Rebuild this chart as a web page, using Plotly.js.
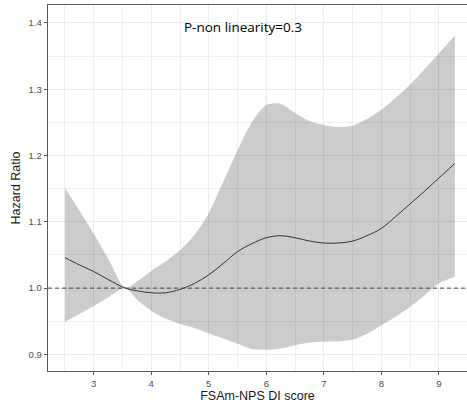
<!DOCTYPE html>
<html>
<head>
<meta charset="utf-8">
<script src="https://cdn.plot.ly/plotly-3.0.1.min.js"></script>
<style>
  html, body { margin: 0; padding: 0; background: #ffffff; }
  #chart { width: 467px; height: 410px; }
</style>
</head>
<body>
<div id="chart"></div>
<script>
// Restricted cubic spline: hazard ratio by FSAm-NPS DI score, with 95% CI
const score = [2.5, 2.75, 3.0, 3.25, 3.55, 3.75, 4.0, 4.25, 4.5, 4.75, 5.0, 5.25, 5.5, 5.75,
               6.0, 6.25, 6.5, 6.75, 7.0, 7.25, 7.5, 7.75, 8.0, 8.25, 8.5, 8.75, 9.0, 9.28];
const hazardRatio = [1.046, 1.035, 1.025, 1.013, 1.000, 0.996, 0.993, 0.993, 0.998, 1.007, 1.020, 1.037, 1.055, 1.067,
                     1.076, 1.079, 1.076, 1.071, 1.068, 1.068, 1.071, 1.079, 1.090, 1.108, 1.127, 1.146, 1.166, 1.188];
const ciUpper = [1.151, 1.117, 1.082, 1.045, 1.000, 1.010, 1.026, 1.040, 1.057, 1.080, 1.113, 1.160, 1.208, 1.250,
                 1.276, 1.278, 1.264, 1.252, 1.246, 1.243, 1.245, 1.255, 1.269, 1.287, 1.307, 1.330, 1.354, 1.381];
const ciLower = [0.949, 0.961, 0.973, 0.986, 1.000, 0.983, 0.966, 0.954, 0.946, 0.940, 0.932, 0.924, 0.916, 0.908,
                 0.907, 0.909, 0.914, 0.918, 0.919, 0.920, 0.922, 0.931, 0.944, 0.957, 0.972, 0.989, 1.007, 1.017];
const xTicks = [3, 4, 5, 6, 7, 8, 9];
const yTicks = [0.9, 1.0, 1.1, 1.2, 1.3, 1.4];
const yTickLabels = ["0.9", "1.0", "1.1", "1.2", "1.3", "1.4"];
const referenceHR = 1;
const pNonLinearityText = "P-non linearity=0.3";

const gridColor = "#ebebeb";
const tickFont = { family: "Liberation Sans, Arial, sans-serif", size: 9.5, color: "#4d4d4d" };
const titleFont = { family: "Liberation Sans, Arial, sans-serif", size: 12.5, color: "#1a1a1a" };

const traces = [
  {
    x: score, y: ciLower, type: "scatter", mode: "lines",
    line: { width: 0, shape: "spline", smoothing: 0.8 }, hoverinfo: "skip", showlegend: false
  },
  {
    x: score, y: ciUpper, type: "scatter", mode: "lines",
    line: { width: 0, shape: "spline", smoothing: 0.8 }, fill: "tonexty",
    fillcolor: "rgba(0,0,0,0.2)", hoverinfo: "skip", showlegend: false
  },
  {
    x: score, y: hazardRatio, type: "scatter", mode: "lines",
    line: { color: "#333333", width: 1, shape: "spline" }, showlegend: false
  }
];

const layout = {
  width: 467, height: 410,
  margin: { l: 48, r: 0, t: 5, b: 39, pad: 0 },
  paper_bgcolor: "#ffffff", plot_bgcolor: "#ffffff",
  showlegend: false,
  xaxis: {
    range: [2.205, 9.49],
    tickvals: xTicks, ticktext: xTicks.map(String),
    ticks: "outside", ticklen: 3, tickwidth: 1, tickcolor: "#555555",
    tickfont: tickFont,
    showgrid: true, gridcolor: gridColor, gridwidth: 1,
    minor: { dtick: 0.5, tick0: 2.5, showgrid: true, gridcolor: gridColor, gridwidth: 0.8, ticks: "" },
    showline: true, linecolor: "#5a5a5a", linewidth: 1.3, mirror: true,
    zeroline: false,
    title: { text: "FSAm-NPS DI score", font: titleFont, standoff: 2 }
  },
  yaxis: {
    range: [0.875, 1.427],
    tickvals: yTicks, ticktext: yTickLabels,
    ticks: "outside", ticklen: 3, tickwidth: 1, tickcolor: "#555555",
    tickfont: tickFont,
    showgrid: true, gridcolor: gridColor, gridwidth: 1,
    minor: { dtick: 0.05, tick0: 0.9, showgrid: true, gridcolor: gridColor, gridwidth: 0.8, ticks: "" },
    showline: true, linecolor: "#5a5a5a", linewidth: 1.3, mirror: true,
    zeroline: false,
    title: { text: "Hazard Ratio", font: titleFont, standoff: 5 }
  },
  shapes: [
    {
      type: "line", xref: "paper", x0: 0, x1: 1, yref: "y", y0: referenceHR, y1: referenceHR,
      line: { color: "#444444", width: 1, dash: "4px,3px" }
    }
  ],
  annotations: [
    {
      text: pNonLinearityText, xref: "x", yref: "y", x: 5.6, y: 1.3935,
      showarrow: false, xanchor: "center", yanchor: "middle",
      font: { family: "Open Sans, Noto Sans, sans-serif", size: 13.5, color: "#000000" }
    }
  ]
};

Plotly.newPlot("chart", traces, layout, { displayModeBar: false, staticPlot: true });
</script>
</body>
</html>
